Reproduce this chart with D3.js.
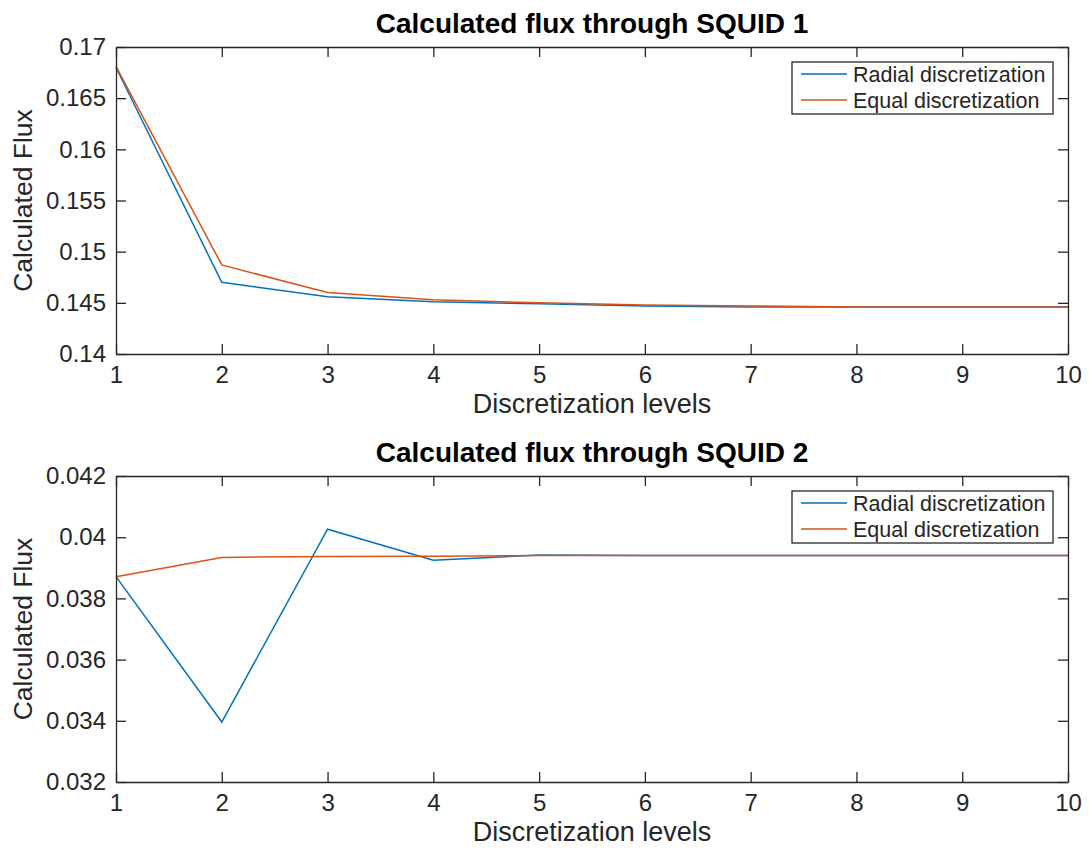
<!DOCTYPE html>
<html>
<head>
<meta charset="utf-8">
<script src="https://cdn.jsdelivr.net/npm/d3@7/dist/d3.min.js"></script>
<style>
  body { margin: 0; background: #fff; }
  text { font-family: "Liberation Sans", Arial, Helvetica, sans-serif; fill: #262626; }
  .domain { stroke: #262626; }
  .tick line { stroke: #262626; }
</style>
</head>
<body>
<div id="chart"></div>
<script>
'use strict';

// discretization levels (x axis)
const levels = [1, 2, 3, 4, 5, 6, 7, 8, 9, 10];

// SQUID 1
const radial1 = [0.1680, 0.1470, 0.1456, 0.1451, 0.1449, 0.1447, 0.1446, 0.1446, 0.1446, 0.1446];
const equal1 = [0.1681, 0.1487, 0.1460, 0.1453, 0.1450, 0.1448, 0.1447, 0.1446, 0.1446, 0.1446];
const yTicks1 = [0.14, 0.145, 0.15, 0.155, 0.16, 0.165, 0.17];
const yLabels1 = ["0.14", "0.145", "0.15", "0.155", "0.16", "0.165", "0.17"];

// SQUID 2
const radial2 = [0.03871, 0.03396, 0.04026, 0.03925, 0.03942, 0.0394, 0.0394, 0.0394, 0.0394, 0.0394];
const equal2 = [0.03871, 0.03934, 0.03937, 0.03938, 0.0394, 0.0394, 0.0394, 0.0394, 0.0394, 0.0394];
const yTicks2 = [0.032, 0.034, 0.036, 0.038, 0.04, 0.042];
const yLabels2 = ["0.032", "0.034", "0.036", "0.038", "0.04", "0.042"];

const seriesNames = ["Radial discretization", "Equal discretization"];
const colors = ["#0072BD", "#D95319"];

const W = 1089, H = 850;

const svg = d3.select("#chart")
    .append("svg")
    .attr("width", W)
    .attr("height", H);

svg.append("rect").attr("width", W).attr("height", H).attr("fill", "#fff");

// draws one panel of the figure
function drawPanel(top, bottom, title, yDomain, yTicks, yLabels, radial, equal) {
    const left = 116, right = 1068;

    const x = d3.scaleLinear().domain([1, 10]).range([left, right]);
    const y = d3.scaleLinear().domain(yDomain).range([bottom, top]);

    const g = svg.append("g");

    // lines
    const line = d3.line()
        .x((d, i) => x(levels[i]))
        .y(d => y(d));

    [radial, equal].forEach((s, k) => {
        g.append("path")
            .datum(s)
            .attr("fill", "none")
            .attr("stroke", colors[k])
            .attr("stroke-width", 1.5)
            .attr("d", line);
    });

    // axes, ticks inside on all sides
    const xAxis = g.append("g")
        .attr("transform", "translate(0," + bottom + ")")
        .call(d3.axisBottom(x).tickValues(levels).tickFormat(d3.format("d"))
            .tickSizeInner(-10).tickSizeOuter(0).tickPadding(12));
    const xTop = g.append("g")
        .attr("transform", "translate(0," + top + ")")
        .call(d3.axisTop(x).tickValues(levels).tickFormat("")
            .tickSizeInner(-10).tickSizeOuter(0));
    const yAxis = g.append("g")
        .attr("transform", "translate(" + left + ",0)")
        .call(d3.axisLeft(y).tickValues(yTicks).tickFormat((d, i) => yLabels[i])
            .tickSizeInner(-10).tickSizeOuter(0).tickPadding(10));
    const yRight = g.append("g")
        .attr("transform", "translate(" + right + ",0)")
        .call(d3.axisRight(y).tickValues(yTicks).tickFormat("")
            .tickSizeInner(-10).tickSizeOuter(0));

    [xAxis, xTop, yAxis, yRight].forEach(a => {
        a.selectAll(".domain").attr("stroke-width", 1.3);
        a.selectAll(".tick line").attr("stroke-width", 1.3);
    });
    g.selectAll(".tick text")
        .style("font-size", "24px")
        .attr("fill", "#262626");

    // title
    g.append("text")
        .attr("x", (left + right) / 2)
        .attr("y", top - 14)
        .attr("text-anchor", "middle")
        .style("font-size", "28px")
        .style("font-weight", "bold")
        .style("fill", "#000")
        .text(title);

    // axis labels
    g.append("text")
        .attr("x", (left + right) / 2)
        .attr("y", bottom + 59)
        .attr("text-anchor", "middle")
        .style("font-size", "27px")
        .text("Discretization levels");

    g.append("text")
        .attr("transform", "translate(32," + ((top + bottom) / 2) + ") rotate(-90)")
        .attr("text-anchor", "middle")
        .style("font-size", "26.5px")
        .text("Calculated Flux");

    // legend
    const lx = 792, ly = top + 15;
    const legend = g.append("g");
    legend.append("rect")
        .attr("x", lx).attr("y", ly)
        .attr("width", 261).attr("height", 52)
        .attr("fill", "#fff")
        .attr("stroke", "#262626")
        .attr("stroke-width", 1.3);
    seriesNames.forEach((name, k) => {
        const yy = ly + 12 + k * 26;
        legend.append("line")
            .attr("x1", lx + 9).attr("x2", lx + 55)
            .attr("y1", yy).attr("y2", yy)
            .attr("stroke", colors[k])
            .attr("stroke-width", 1.5);
        legend.append("text")
            .attr("x", lx + 61)
            .attr("y", yy + 7.5)
            .style("font-size", "21.5px")
            .text(name);
    });
}

drawPanel(47, 354, "Calculated flux through SQUID 1", [0.14, 0.17], yTicks1, yLabels1, radial1, equal1);
drawPanel(476, 782, "Calculated flux through SQUID 2", [0.032, 0.042], yTicks2, yLabels2, radial2, equal2);
</script>
</body>
</html>
